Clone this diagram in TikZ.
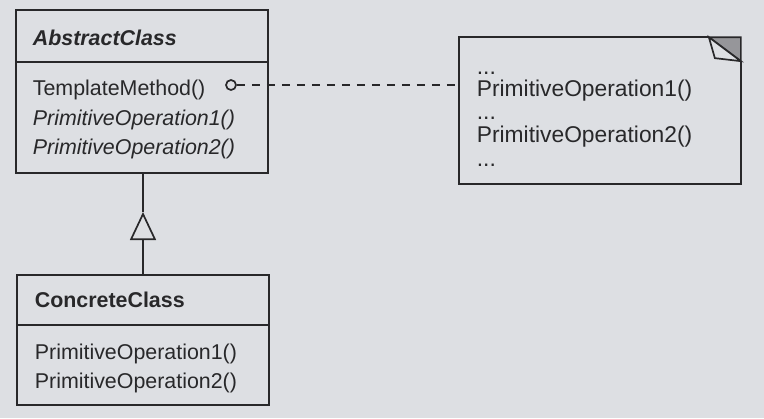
\documentclass[tikz,border=0pt]{standalone}
\usepackage{fontspec}
\setmainfont{Liberation Sans}
\usetikzlibrary{arrows.meta,calc}
\definecolor{bgc}{RGB}{221,223,227}
\definecolor{ink}{RGB}{40,40,42}
\definecolor{shade}{RGB}{150,150,154}
\begin{document}
\begin{tikzpicture}[x=0.5pt,y=-0.5pt,
  line width=0.85pt,
  frame/.style={draw=ink, rectangle, inner sep=0pt},
  txt/.style={anchor=base west, inner sep=0pt, text=ink, font=\fontsize{10.7}{13}\selectfont},
  notetxt/.style={anchor=base west, inner sep=0pt, text=ink, font=\fontsize{11.4}{13}\selectfont},
  dashline/.style={draw=ink, dash pattern=on 4pt off 3.5pt},
]
\fill[bgc] (0,0) rectangle (764,418);
\useasboundingbox (0,0) rectangle (764,418);

% AbstractClass
\node[frame, minimum width=126pt, minimum height=81.5pt] (abs) at (142,91.5) {};
\draw[ink] ($(abs.north west)+(0,53)$) coordinate (absdivl) -- (absdivl -| abs.east);
\node[txt, font=\fontsize{10.7}{13}\selectfont\bfseries\itshape] (absname) at (32,45) {AbstractClass};
\node[txt] (tm) at (32,95) {TemplateMethod()};
\node[txt, font=\fontsize{10.7}{13}\selectfont\itshape] (apo1) at (32,125) {PrimitiveOperation1()};
\node[txt, font=\fontsize{10.7}{13}\selectfont\itshape] (apo2) at (32,154) {PrimitiveOperation2()};

% ConcreteClass
\node[frame, minimum width=126pt, minimum height=65pt] (con) at (143,340) {};
\draw[ink] ($(con.north west)+(0,51)$) coordinate (condivl) -- (condivl -| con.east);
\node[txt, font=\fontsize{10.7}{13}\selectfont\bfseries] (conname) at (34,307) {ConcreteClass};
\node[txt] (cpo1) at (34,359) {PrimitiveOperation1()};
\node[txt] (cpo2) at (34,388) {PrimitiveOperation2()};

% inheritance
\coordinate (tip) at (143,212);
\draw[ink, -{Triangle[open, length=14pt, width=13pt, line width=0.85pt]}] (con.north) -- (tip);
\draw[ink] (tip) -- (tip |- abs.south);

% note
\node[inner sep=0pt, minimum width=140pt, minimum height=72.5pt] (note) at (600,110.5) {};
\coordinate (fa) at ($(note.north east)+(-32,0)$);
\coordinate (fb) at ($(note.north east)+(0,24)$);
\coordinate (fc) at ($(note.north east)+(-26,21)$);
\filldraw[draw=ink, fill=shade] (fa) -- (note.north east) -- (fb) -- cycle;
\filldraw[draw=ink, fill=bgc] (fa) -- (fc) -- (fb) -- cycle;
\draw[ink] (fa) -- (note.north west) -- (note.south west) -- (note.south east) -- (fb);
\node[notetxt] (d1) at (476,74) {...};
\node[notetxt] (npo1) at (476,96) {PrimitiveOperation1()};
\node[notetxt] (d2) at (476,119) {...};
\node[notetxt] (npo2) at (476,142) {PrimitiveOperation2()};
\node[notetxt] (d3) at (476,166) {...};

% circle + dashed
\node[draw=ink, circle, inner sep=0pt, minimum size=5pt, line width=0.85pt] (circ) at (231,85) {};
\draw[dashline] (circ.east) -- (circ.east -| note.west);
\end{tikzpicture}
\end{document}
